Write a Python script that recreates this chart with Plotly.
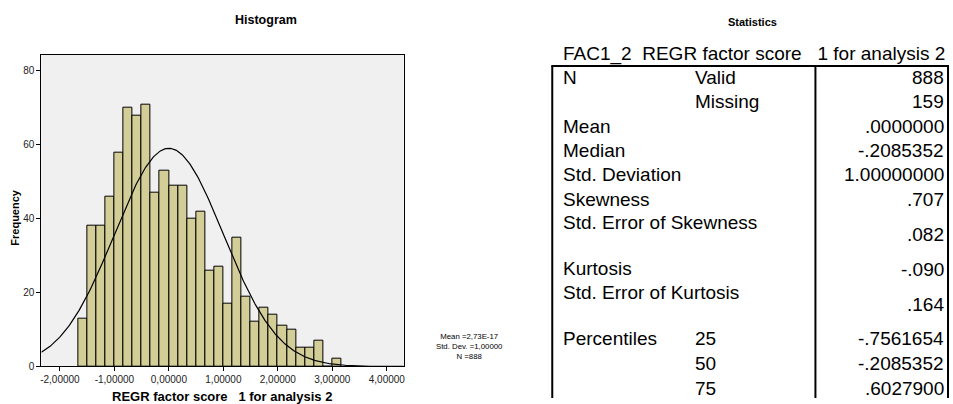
import numpy as np
import plotly.graph_objects as go

W, H = 953, 404

# ---------------- data ----------------
bin_counts = [13, 38, 38, 46, 58, 70, 68, 71, 47, 53, 49, 49, 40, 42, 26, 27,
              17, 35, 19, 12, 16, 14, 11, 10, 5, 5, 7, 0, 2]
bin_width = 1 / 6
first_bin_lower = -10 / 6
x_tick_vals = [-2, -1, 0, 1, 2, 3, 4]
x_tick_labels = ["-2,00000", "-1,00000", "0,00000", "1,00000", "2,00000", "3,00000", "4,00000"]
y_tick_vals = [0, 20, 40, 60, 80]
fit_mean, fit_sd, fit_n = 0.0, 1.0, 888

stat_label_col1 = ["N", "", "Mean", "Median", "Std. Deviation", "Skewness",
                   "Std. Error of Skewness", "Kurtosis", "Std. Error of Kurtosis",
                   "Percentiles", "", ""]
stat_label_col2 = ["Valid", "Missing", "", "", "", "", "", "", "", "25", "50", "75"]
stat_values = ["888", "159", ".0000000", "-.2085352", "1.00000000", ".707",
               ".082", "-.090", ".164", "-.7561654", "-.2085352", ".6027900"]

# ---------------- layout helpers (pixel -> paper) ----------------
def px(x):
    return x / W

def py(y):
    return 1 - y / H

FONT = "Liberation Sans, Arial, sans-serif"

bar_x = [first_bin_lower + (i + 0.5) * bin_width for i in range(len(bin_counts))]
x_range = [-2.34, 4.31]
y_range = [0, 84.4]

curve_x = np.linspace(x_range[0], x_range[1], 400)
curve_y = fit_n * bin_width / (fit_sd * np.sqrt(2 * np.pi)) * np.exp(-0.5 * ((curve_x - fit_mean) / fit_sd) ** 2)

fig = go.Figure()
fig.add_trace(go.Bar(x=bar_x, y=bin_counts, width=bin_width,
                     marker=dict(color="#D3CE97", line=dict(color="black", width=1)),
                     hoverinfo="skip"))
fig.add_trace(go.Scatter(x=curve_x, y=curve_y, mode="lines",
                         line=dict(color="black", width=1.2), hoverinfo="skip"))

fig.update_layout(
    width=W, height=H,
    margin=dict(l=0, r=0, t=0, b=0),
    paper_bgcolor="white", plot_bgcolor="#F0F0F0",
    showlegend=False, bargap=0,
    font=dict(family=FONT, color="black"),
    xaxis=dict(domain=[px(40.5), px(404)], range=x_range,
               tickvals=x_tick_vals, ticktext=x_tick_labels,
               ticks="outside", ticklen=4, tickcolor="black",
               tickfont=dict(size=10, color="#222"),
               showline=True, linecolor="black", linewidth=1, mirror=True,
               showgrid=False, zeroline=False, fixedrange=True),
    yaxis=dict(domain=[py(372), py(55.5)], range=y_range,
               tickvals=y_tick_vals,
               ticks="outside", ticklen=4, tickcolor="black",
               tickfont=dict(size=10, color="#222"),
               showline=True, linecolor="black", linewidth=1, mirror=True,
               showgrid=False, zeroline=False, fixedrange=True),
)

ann = []

def text(x, y, s, size, xanchor="left", yanchor="middle", bold=False, textangle=0, align="left"):
    if bold:
        s = "<b>" + s + "</b>"
    ann.append(dict(x=px(x), y=py(y), xref="paper", yref="paper", text=s,
                    showarrow=False, xanchor=xanchor, yanchor=yanchor,
                    font=dict(size=size, family=FONT, color="black"),
                    textangle=textangle, align=align))

# histogram titles
text(266, 20, "Histogram", 12.5, xanchor="center", bold=True)
text(14, 220, "Frequency", 11, xanchor="center", bold=True, textangle=-90)
text(222, 402, "REGR factor score   1 for analysis 2", 13, xanchor="center", bold=True)
text(470, 352, "Mean =2,73E-17<br>Std. Dev. =1,00000<br>N =888", 7.8,
     xanchor="center", align="center")

# statistics table
text(754, 22, "Statistics", 11, xanchor="center", bold=True)
text(562, 55, "FAC1_2  REGR factor score   1 for analysis 2", 19)

row_y_label = [79, 103, 128, 153, 177.5, 202, 226, 273, 297, 344, 369, 394]
row_y_value = [79, 103, 128, 153, 177.5, 202, 238, 274, 309, 344, 369, 394]
for i in range(len(stat_values)):
    if stat_label_col1[i]:
        text(562, row_y_label[i], stat_label_col1[i], 19)
    if stat_label_col2[i]:
        text(694, row_y_label[i], stat_label_col2[i], 19)
    text(948, row_y_value[i], stat_values[i], 19, xanchor="right")

fig.update_layout(annotations=ann)

shapes = []
def line(x0, y0, x1, y1, w):
    shapes.append(dict(type="line", xref="paper", yref="paper",
                       x0=px(x0), y0=py(y0), x1=px(x1), y1=py(y1),
                       line=dict(color="black", width=w)))

line(552, 67, 951, 67, 2)
line(553, 67, 553, 404, 2)
line(817, 67, 817, 404, 2)
line(950, 67, 950, 404, 2)
fig.update_layout(shapes=shapes)

fig.write_html("out.html", config={"displayModeBar": False},
               post_script="document.body.style.margin='0';")
